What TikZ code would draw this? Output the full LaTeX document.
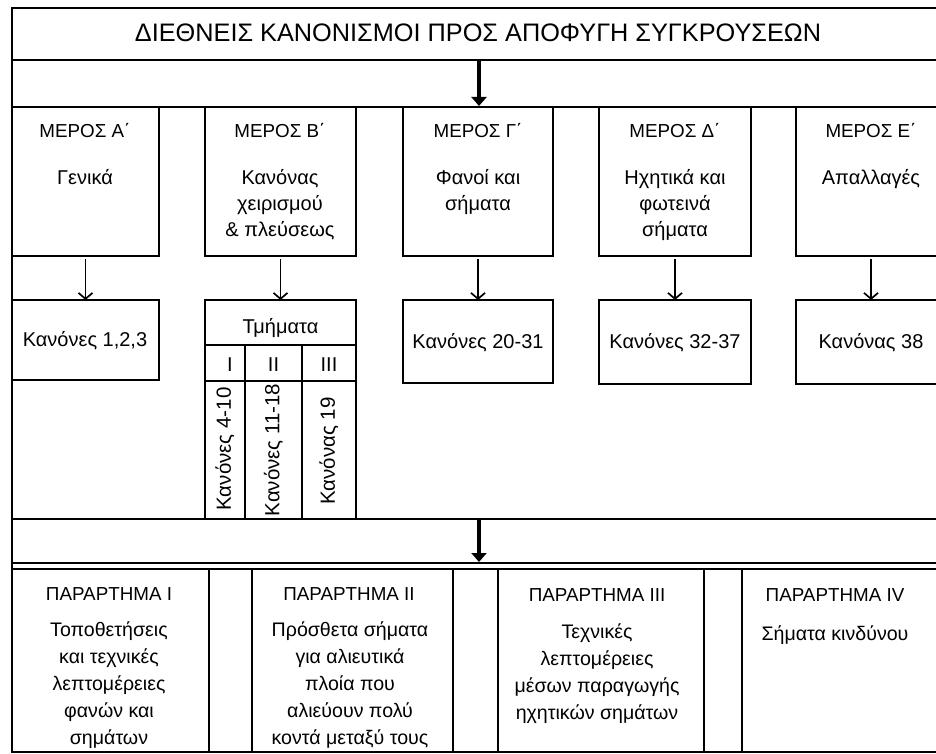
\documentclass[tikz,border=0pt]{standalone}
\usepackage{fontspec}
\setmainfont{Liberation Sans}
\usetikzlibrary{arrows.meta}
\begin{document}
\begin{tikzpicture}[x=1pt,y=-1pt,
  frame/.style={line width=2.4pt},
  box/.style={draw, line width=1.9pt, inner sep=0pt, outer sep=0pt, anchor=north west},
  hd/.style={font=\fontsize{18.8}{26}\selectfont, anchor=base, inner sep=0pt},
  bd/.style={font=\fontsize{20}{26}\selectfont, align=center, anchor=north, inner sep=0pt},
  bdb/.style={font=\fontsize{19.6}{27}\selectfont, align=center, anchor=north, inner sep=0pt},
  rb/.style={font=\fontsize{20}{26}\selectfont, anchor=base, inner sep=0pt},
  rot/.style={font=\fontsize{20.5}{26}\selectfont, rotate=90, inner sep=0pt},
  big/.style={-{Triangle[length=9pt,width=15pt]}, line width=3.5pt},
  small/.style={-{Straight Barb[length=6pt,width=14pt]}, line width=1.7pt, shorten <=3pt},
]
\useasboundingbox (0,0) rectangle (936,754);
\fill[white] (0,0) rectangle (936,754);

% frame and full-width lines
\draw[frame] (12,752) -- (12,8) -- (936,8);
\draw[frame] (12,60) -- (936,60);
\draw[frame] (12,107) -- (936,107);
\draw[frame] (12,519) -- (936,519);
\draw[frame] (12,563) -- (936,563);
\draw[frame] (12,569) -- (936,569);
\draw[frame] (12,752) -- (936,752);

% title band
\node[inner sep=0pt, outer sep=0pt, minimum width=934pt, minimum height=52pt, anchor=north west] (band) at (12,8) {};
\node[font=\fontsize{25.3}{30}\selectfont, anchor=base, inner sep=0pt] (title) at (478,42) {ΔΙΕΘΝΕΙΣ ΚΑΝΟΝΙΣΜΟΙ ΠΡΟΣ ΑΠΟΦΥΓΗ ΣΥΓΚΡΟΥΣΕΩΝ};
\coordinate (c1) at (479,106);
\draw[big] (band.south) -- (c1);

% row 1: parts
\node[box, minimum width=147pt, minimum height=149pt] (A) at (12,107) {};
\node[box, minimum width=151pt, minimum height=149pt] (B) at (205,107) {};
\node[box, minimum width=150pt, minimum height=149pt] (G) at (403,107) {};
\node[box, minimum width=152pt, minimum height=149pt] (D) at (599,107) {};
\node[box, minimum width=150pt, minimum height=149pt] (E) at (796,107) {};

\node[hd] (hA) at (85,138) {ΜΕΡΟΣ Α΄};
\node[hd] (hB) at (280,138) {ΜΕΡΟΣ Β΄};
\node[hd] (hG) at (478,138) {ΜΕΡΟΣ Γ΄};
\node[hd] (hD) at (675,138) {ΜΕΡΟΣ Δ΄};
\node[hd] (hE) at (871,138) {ΜΕΡΟΣ Ε΄};

\node[bd] (tA) at (85,165.8) {\strut Γενικά};
\node[bd] (tB) at (280,165.8) {\strut Κανόνας\\χειρισμού\\\& πλεύσεως};
\node[bd] (tG) at (478,165.8) {\strut Φανοί και\\σήματα};
\node[bd] (tD) at (675,165.8) {\strut Ηχητικά και\\φωτεινά\\σήματα};
\node[bd] (tE) at (871,165.8) {\strut Απαλλαγές};

% row 2: rules
\node[box, minimum width=147pt, minimum height=80pt] (A2) at (12,300) {};
\node[box, minimum width=151pt, minimum height=219pt] (B2) at (205,300) {};
\node[box, minimum width=150pt, minimum height=83pt] (G2) at (403,300) {};
\node[box, minimum width=152pt, minimum height=84pt] (D2) at (599,300) {};
\node[box, minimum width=150pt, minimum height=84pt] (E2) at (796,300) {};

\draw[small] (A.south) -- (A2.north);
\draw[small] (B.south) -- (B2.north);
\draw[small] (G.south) -- (G2.north);
\draw[small] (D.south) -- (D2.north);
\draw[small] (E.south) -- (E2.north);

\node[rb] (kA) at (85,346) {Κανόνες 1,2,3};
\node[rb] (kG) at (478,348) {Κανόνες 20-31};
\node[rb] (kD) at (675,348) {Κανόνες 32-37};
\node[rb] (kE) at (871,348) {Κανόνας 38};

% sections of part B
\draw[line width=1.9pt] (205,345) -- (356,345);
\draw[line width=1.9pt] (205,381) -- (356,381);
\draw[line width=1.9pt] (245,345) -- (245,519);
\draw[line width=1.9pt] (302,345) -- (302,519);
\node[rb] (tm) at (280.5,333) {Τμήματα};
\node[rb] (s1) at (230,371) {I};
\node[rb] (s2) at (273.5,371) {II};
\node[rb] (s3) at (329,371) {III};
\node[rot] (r1) at (225,449) {Κανόνες 4-10};
\node[rot] (r2) at (273.5,450) {Κανόνες 11-18};
\node[rot] (r3) at (329,451) {Κανόνας 19};

% arrow to annexes
\coordinate (m1) at (479,519);
\coordinate (m2) at (479,562);
\draw[big] (m1) -- (m2);

% annexes
\node[box, minimum width=197pt, minimum height=183pt] (P1) at (12,569) {};
\node[box, minimum width=201pt, minimum height=183pt] (P2) at (252,569) {};
\node[box, minimum width=206pt, minimum height=183pt] (P3) at (498,569) {};
\node[box, minimum width=204pt, minimum height=183pt] (P4) at (742,569) {};

\node[hd] (pA) at (109,600) {ΠΑΡΑΡΤΗΜΑ I};
\node[hd] (pB) at (349,600) {ΠΑΡΑΡΤΗΜΑ II};
\node[hd] (pC) at (597,601) {ΠΑΡΑΡΤΗΜΑ III};
\node[hd] (pD) at (835,601) {ΠΑΡΑΡΤΗΜΑ IV};

\node[bdb] (qA) at (109,617.1) {\strut Τοποθετήσεις\\και τεχνικές\\λεπτομέρειες\\φανών και\\σημάτων};
\node[bdb] (qB) at (350,617.1) {\strut Πρόσθετα σήματα\\για αλιευτικά\\πλοία που\\αλιεύουν πολύ\\κοντά μεταξύ τους};
\node[bdb] (qC) at (597,619.1) {\strut Τεχνικές\\λεπτομέρειες\\μέσων παραγωγής\\ηχητικών σημάτων};
\node[bdb] (qD) at (835,621.1) {\strut Σήματα κινδύνου};
\end{tikzpicture}
\end{document}
